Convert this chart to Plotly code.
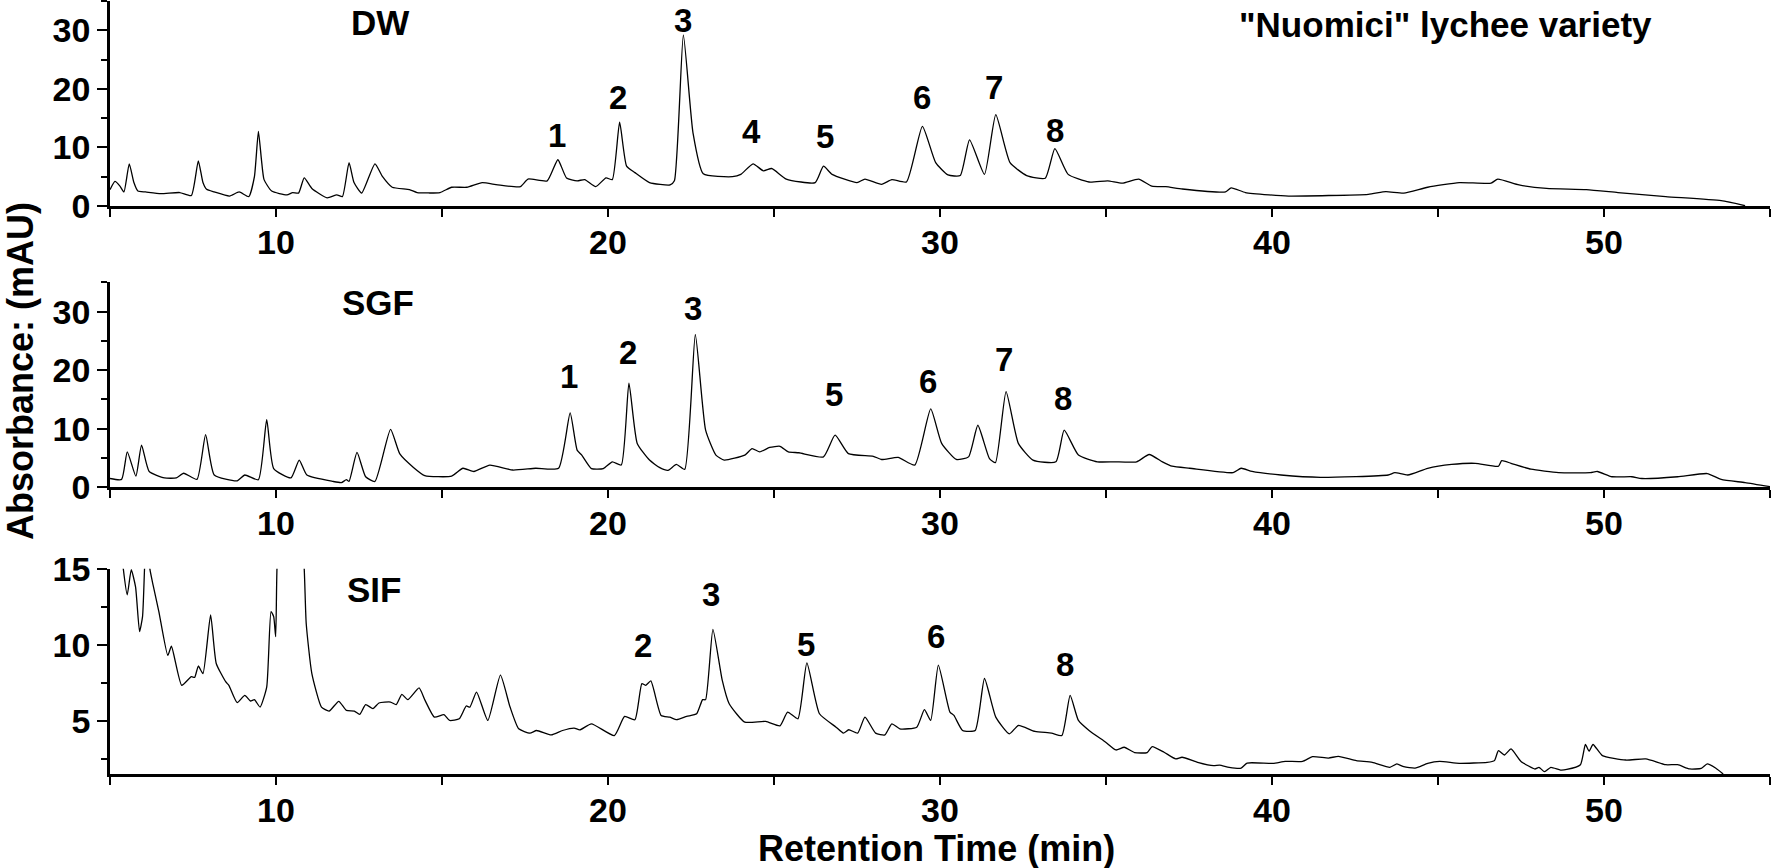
import plotly.graph_objects as go

# ---------------- data ----------------
dw_time = [5.0, 5.15, 5.3, 5.42, 5.58, 5.72, 5.84, 6.07, 6.53, 7.1, 7.45, 7.66, 7.8, 7.91, 8.14, 8.6, 8.89, 9.18, 9.35,
           9.47, 9.56, 9.64, 9.87, 10.33, 10.5, 10.68, 10.85, 11.08, 11.54, 11.83, 12.0, 12.2, 12.35, 12.58, 12.98,
           13.21, 13.5, 14.02, 14.25, 14.94, 15.29, 15.75, 16.21, 16.68, 17.36, 17.59, 18.17, 18.49, 18.75, 19.07,
           19.3, 19.63, 19.94, 20.13, 20.35, 20.56, 20.81, 21.25, 21.87, 22.0, 22.27, 22.56, 22.87, 23.75, 24.0,
           24.37, 24.68, 24.93, 25.37, 26.24, 26.49, 26.75, 27.5, 27.74, 28.24, 28.55, 28.99, 29.47, 29.87, 30.24,
           30.61, 30.89, 31.34, 31.68, 32.11, 32.61, 33.17, 33.46, 33.86, 34.49, 35.05, 35.49, 35.98, 36.38, 36.8,
           37.3, 38.6, 38.77, 39.2, 39.91, 40.5, 42.9, 43.43, 43.97, 44.69, 45.64, 46.6, 46.8, 47.44, 48.27, 49.47,
           50.42, 51.86, 53.53, 54.25]
dw_abs = [2.8, 4.2, 3.4, 2.4, 7.2, 4.0, 2.55, 2.4, 2.1, 2.3, 1.8, 7.7, 4.0, 2.84, 2.4, 1.7, 2.4, 1.6, 5.0,
          12.75, 8.0, 4.5, 2.55, 1.9, 2.3, 2.2, 4.8, 3.0, 1.4, 1.9, 1.6, 7.4, 4.0, 2.2, 7.2,
          5.0, 3.2, 2.8, 2.3, 2.3, 3.2, 3.2, 4.0, 3.6, 3.3, 4.6, 4.3, 7.9, 4.8, 4.3,
          4.5, 3.3, 4.8, 4.5, 14.3, 6.8, 5.7, 4.0, 3.6, 4.3, 29.2, 12.5, 5.5, 5.0, 5.4,
          7.2, 6.0, 6.4, 4.6, 4.0, 6.8, 5.4, 4.0, 4.6, 3.7, 4.5, 4.1, 13.6, 7.4, 5.3,
          5.2, 11.3, 5.4, 15.6, 7.4, 5.2, 4.75, 9.8, 5.4, 4.1, 4.3, 3.9, 4.6, 3.4, 3.3,
          2.9, 2.4, 3.1, 2.3, 1.9, 1.7, 2.0, 2.45, 2.2, 3.2, 4.0, 3.9, 4.6, 3.6, 3.0, 2.8,
          2.3, 1.6, 0.9, 0.05]

sgf_time = [5.0, 5.35, 5.52, 5.78, 5.95, 6.18, 6.64, 7.0, 7.22, 7.62, 7.88, 8.14, 8.83, 9.06, 9.47, 9.72, 9.93,
            10.45, 10.7, 10.93, 11.72, 11.97, 12.12, 12.2, 12.44, 12.7, 12.98, 13.45, 13.73, 14.14, 14.48, 15.29,
            15.63, 15.96, 16.44, 17.13, 17.82, 18.51, 18.86, 19.07, 19.21, 19.5, 19.86, 20.13, 20.4, 20.63, 20.88,
            21.25, 21.56, 21.81, 22.06, 22.31, 22.63, 22.94, 23.25, 23.5, 24.12, 24.34, 24.57, 24.87, 25.18, 25.43,
            25.75, 26.49, 26.84, 27.24, 27.99, 28.24, 28.74, 29.24, 29.72, 30.05, 30.49, 30.86, 31.14, 31.49, 31.67,
            31.99, 32.36, 32.8, 33.49, 33.74, 34.17, 34.74, 35.25, 35.92, 36.3, 36.7, 36.99, 37.52, 38.83, 39.07,
            39.4, 40.27, 41.46, 43.5, 43.7, 44.09, 44.69, 45.41, 46.12, 46.82, 46.92, 47.2, 47.8, 48.63, 49.59,
            49.8, 50.24, 50.84, 51.14, 52.22, 53.11, 53.53, 54.25, 55.0]
sgf_abs = [1.5, 1.35, 6.05, 1.9, 7.2, 2.7, 1.6, 1.6, 2.4, 1.35, 9.0, 2.1, 1.1, 2.1, 1.3, 11.55, 3.2,
           1.6, 4.65, 2.1, 1.0, 0.8, 1.3, 1.0, 5.95, 1.8, 1.0, 9.9, 5.7, 3.4, 2.0, 1.9,
           3.25, 2.7, 3.8, 2.95, 3.25, 3.25, 12.7, 6.35, 5.5, 3.2, 3.2, 4.35, 3.8, 17.8, 7.5,
           4.65, 3.35, 2.9, 3.9, 3.05, 26.1, 9.75, 5.5, 4.65, 5.5, 6.6, 6.05, 6.8, 7.0, 6.05,
           5.9, 5.2, 8.9, 5.75, 5.3, 4.75, 5.1, 3.8, 13.4, 7.5, 4.75, 5.2, 10.6, 4.9, 4.2,
           16.35, 7.5, 4.65, 4.35, 9.75, 5.5, 4.35, 4.35, 4.35, 5.6, 4.35, 3.6, 3.25, 2.5, 3.25,
           2.7, 2.1, 1.7, 2.1, 2.5, 2.1, 3.25, 3.9, 4.1, 3.6, 4.55, 4.1, 3.1, 2.5, 2.5,
           2.7, 1.8, 1.8, 1.5, 1.8, 2.35, 1.35, 0.8, 0.1]

sif_time = [5.2, 5.4, 5.52, 5.64, 5.77, 5.89, 5.98, 6.04, 6.1, 6.2, 6.3, 6.47, 6.74, 6.85, 7.16, 7.45, 7.55, 7.66,
            7.8, 8.03, 8.2, 8.49, 8.58, 8.83, 9.06, 9.23, 9.35, 9.52, 9.72, 9.85, 9.93, 9.99, 10.03, 10.4, 10.85,
            10.91, 11.08, 11.37, 11.6, 11.89, 12.12, 12.36, 12.52, 12.7, 12.92, 13.1, 13.45, 13.62, 13.79, 13.97,
            14.31, 14.49, 14.77, 15.06, 15.23, 15.52, 15.73, 15.84, 16.04, 16.38, 16.76, 17.05, 17.31, 17.65, 17.85,
            18.29, 18.63, 18.98, 19.15, 19.5, 20.19, 20.5, 20.81, 21.02, 21.14, 21.29, 21.6, 21.86, 22.07, 22.37,
            22.67, 22.85, 22.94, 23.16, 23.44, 23.65, 24.12, 24.75, 25.18, 25.41, 25.72, 25.99, 26.37, 26.87, 27.09,
            27.25, 27.52, 27.74, 28.06, 28.34, 28.55, 28.79, 29.3, 29.53, 29.72, 29.95, 30.3, 30.42, 30.68, 31.06,
            31.34, 31.68, 32.09, 32.36, 32.86, 33.36, 33.67, 33.92, 34.17, 34.49, 34.99, 35.3, 35.55, 35.86, 36.24,
            36.39, 36.75, 37.1, 37.29, 37.76, 38.24, 38.42, 38.71, 39.07, 39.25, 40.03, 40.4, 40.92, 41.22, 41.7,
            42.0, 42.54, 43.02, 43.55, 43.76, 43.97, 44.31, 44.69, 45.05, 45.64, 46.48, 46.7, 46.82, 47.0, 47.2,
            47.5, 47.92, 48.04, 48.21, 48.4, 48.69, 48.88, 49.29, 49.44, 49.55, 49.67, 49.95, 50.66, 51.26, 51.86,
            52.22, 52.58, 52.93, 53.11, 53.36, 53.59]
sif_abs = [20.0, 15.0, 13.28, 14.93, 13.8, 10.86, 11.85, 15.0, 18.0, 15.0, 13.9, 12.2, 9.3, 9.9, 7.33, 7.9, 7.85, 8.6,
           8.1, 11.96, 8.77, 7.55, 7.33, 6.19, 6.67, 6.3, 6.39, 5.9, 7.22, 12.18, 11.85, 10.53, 15.04, 30.0, 15.0,
           11.4, 8.1, 5.9, 5.64, 6.28, 5.68, 5.64, 5.42, 6.06, 5.8, 6.17, 6.23, 6.06, 6.74, 6.39,
           7.16, 6.34, 5.24, 5.4, 5.02, 5.13, 5.97, 5.9, 6.89, 5.02, 8.0, 5.9, 4.47, 4.19, 4.36,
           4.07, 4.36, 4.52, 4.4, 4.8, 4.03, 5.29, 5.07, 7.44, 7.33, 7.62, 5.35, 5.24, 5.07, 5.29,
           5.46, 6.39, 6.39, 11.01, 7.67, 6.12, 4.91, 4.96, 4.67, 5.57, 5.13, 8.81, 5.46, 4.58, 4.19,
           4.41, 4.19, 5.24, 4.19, 4.07, 4.8, 4.47, 4.58, 5.73, 5.02, 8.66, 5.57, 5.35, 4.36, 4.36,
           7.78, 5.24, 4.14, 4.69, 4.3, 4.19, 4.03, 6.67, 5.02, 4.36, 3.59, 3.08, 3.26, 2.91, 2.91,
           3.3, 2.93, 2.49, 2.6, 2.27, 2.05, 2.09, 1.94, 1.89, 2.22, 2.2, 2.33, 2.33, 2.64, 2.55,
           2.66, 2.38, 2.27, 1.94, 2.16, 1.98, 1.89, 2.2, 2.33, 2.2, 2.27, 2.38, 3.04, 2.75, 3.15,
           2.33, 1.83, 1.94, 1.65, 1.94, 1.76, 1.8, 2.11, 3.44, 3.0, 3.44, 2.71, 2.42, 2.49, 2.11,
           2.11, 1.83, 1.87, 2.16, 1.89, 1.5]

# peak labels: (number, time, absorbance position)
dw_peak_labels = ["1", "2", "3", "4", "5", "6", "7", "8"]
dw_peak_t = [18.45, 20.31, 22.27, 24.31, 26.53, 29.45, 31.64, 33.45]
dw_peak_y = [12.1, 18.6, 31.7, 12.8, 11.9, 18.6, 20.2, 12.9]

sgf_peak_labels = ["1", "2", "3", "5", "6", "7", "8"]
sgf_peak_t = [18.82, 20.6, 22.56, 26.81, 29.65, 31.93, 33.71]
sgf_peak_y = [18.9, 23.0, 30.6, 15.8, 18.05, 21.8, 15.2]

sif_peak_labels = ["2", "3", "5", "6", "8"]
sif_peak_t = [21.06, 23.1, 25.97, 29.87, 33.77]
sif_peak_y = [9.98, 13.28, 10.04, 10.53, 8.72]

panel_names = ["DW", "SGF", "SIF"]
title_text = '"Nuomici" lychee variety'
x_title = "Retention Time (min)"
y_title = "Absorbance: (mAU)"
x_range = [5, 55]
y_ranges = [[0, 35], [0, 35], [1.5, 15]]

# ---------------- figure ----------------
FONT = "Liberation Sans, Arial, Helvetica, sans-serif"
W, H = 1772, 868
ML, MR, MT, MB = 110, 2, 1, 94
domains = [[0.7348, 1.0], [0.3709, 0.6360], [0.0, 0.2656]]

fig = go.Figure()
series = [(dw_time, dw_abs), (sgf_time, sgf_abs), (sif_time, sif_abs)]
for i, (t, a) in enumerate(series):
    k = "" if i == 0 else str(i + 1)
    fig.add_trace(go.Scatter(x=t, y=a, mode="lines",
                             line=dict(color="black", width=1.3, shape="spline", smoothing=0.5),
                             xaxis="x" + k, yaxis="y" + k, showlegend=False, hoverinfo="skip"))

tickfont = dict(family=FONT, size=34, color="black", weight="bold")
layout = dict(width=W, height=H, autosize=False,
              margin=dict(l=ML, r=MR, t=MT, b=MB, pad=0, autoexpand=False),
              paper_bgcolor="white", plot_bgcolor="white", showlegend=False)
for i in range(3):
    k = "" if i == 0 else str(i + 1)
    layout["xaxis" + k] = dict(range=x_range, domain=[0, 1], anchor="y" + k, automargin=False,
                               showline=True, linecolor="black", linewidth=2.5,
                               ticks="outside", ticklen=8, tickwidth=2, tickcolor="black",
                               ticklabelstandoff=-4,
                               tick0=0, dtick=10, tickfont=tickfont, showgrid=False, zeroline=False,
                               minor=dict(ticks="outside", ticklen=8, tickwidth=2, tickcolor="black",
                                          tick0=0, dtick=5, showgrid=False))
    if i < 2:
        yt = dict(tick0=0, dtick=10, minor=dict(ticks="outside", ticklen=6, tickwidth=2, tickcolor="black",
                                                tick0=0, dtick=5, showgrid=False))
    else:
        yt = dict(tick0=0, dtick=5, minor=dict(ticks="outside", ticklen=6, tickwidth=2, tickcolor="black",
                                               tick0=0, dtick=2.5, showgrid=False))
    layout["yaxis" + k] = dict(range=y_ranges[i], domain=domains[i], anchor="x" + k, automargin=False,
                               showline=True, linecolor="black", linewidth=2.5,
                               ticks="outside", ticklen=10, tickwidth=2, tickcolor="black",
                               tickfont=tickfont, showgrid=False, zeroline=False, **yt)
fig.update_layout(**layout)

ann = []
labfont = dict(family=FONT, size=35, color="black", weight="bold")
peakfont = dict(family=FONT, size=33, color="black", weight="bold")
panel_pos = [(0.1627, 0.9722), (0.1614, 0.610), (0.159, 0.2393)]
for name, (px, py) in zip(panel_names, panel_pos):
    ann.append(dict(text=name, x=px, y=py, xref="paper", yref="paper", showarrow=False, font=labfont,
                    xanchor="center", yanchor="middle"))
ann.append(dict(text=title_text, x=0.8045, y=0.970, xref="paper", yref="paper", showarrow=False, font=labfont,
                xanchor="center", yanchor="middle"))
ann.append(dict(text=x_title, x=0.498, y=-0.097, xref="paper", yref="paper", showarrow=False,
                xanchor="center", yanchor="middle",
                font=dict(family=FONT, size=36, color="black", weight="bold")))
ann.append(dict(text=y_title, x=-0.0542, y=0.5213, xref="paper", yref="paper", showarrow=False, textangle=-90,
                xanchor="center", yanchor="middle",
                font=dict(family=FONT, size=36, color="black", weight="bold")))
for i, (labs, ts, ys) in enumerate([(dw_peak_labels, dw_peak_t, dw_peak_y),
                                    (sgf_peak_labels, sgf_peak_t, sgf_peak_y),
                                    (sif_peak_labels, sif_peak_t, sif_peak_y)]):
    k = "" if i == 0 else str(i + 1)
    for lab, t, y in zip(labs, ts, ys):
        ann.append(dict(text=lab, x=t, y=y, xref="x" + k, yref="y" + k, showarrow=False, font=peakfont,
                        xanchor="center", yanchor="middle"))
fig.update_layout(annotations=ann)

fig.write_html("out.html", config={"displayModeBar": False},
               post_script="document.body.style.margin='0px';")
